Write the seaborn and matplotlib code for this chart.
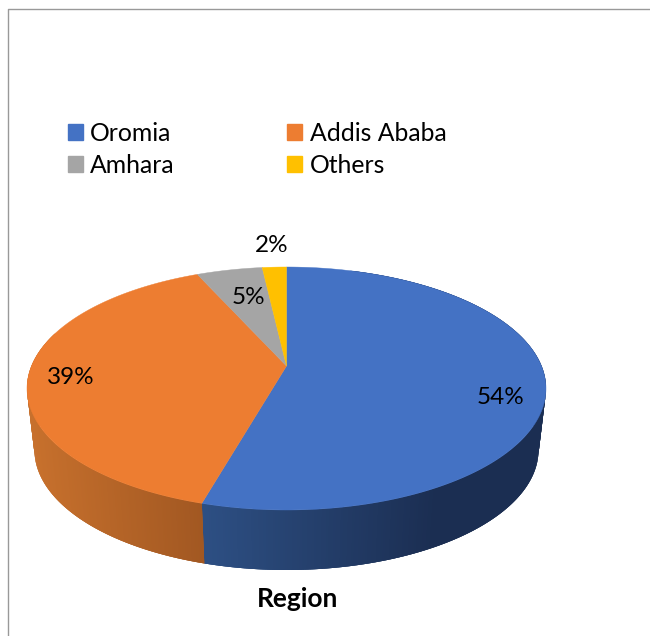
# 3D-look pie of respondents by region
import numpy as np
import matplotlib
matplotlib.use("Agg")
import matplotlib.pyplot as plt
from matplotlib.patches import Patch
import seaborn as sns

regions = ["Oromia", "Addis Ababa", "Amhara", "Others"]
shares = [54.4, 38.9, 4.9, 1.8]
top_colors = ["#4472C4", "#ED7D31", "#A5A5A5", "#FFC000"]
title = "Region"

sns.set_theme(style="white")
plt.rcParams["font.family"] = ["Lato", "DejaVu Sans"]

# pixel geometry of the tilted disc
CX, CY, RX, RY = 286.5, 388.5, 259.5, 121.5
BX, BY, BRX, BRY = 286.5, 450.0, 252.0, 120.0
K = 22.5 / RY  # perspective, moves the apex up from the ellipse centre


def to_top(phi):
    # clockwise angle from 12 o'clock -> point on the top rim
    u, v = np.sin(phi), np.cos(phi)
    w = 1 + K * v
    return CX + RX * np.sqrt(1 - K**2) * u / w, CY - RY * (v + K) / w


def to_bottom(phi):
    u, v = np.sin(phi), np.cos(phi)
    w = 1 + K * v
    return BX + BRX * np.sqrt(1 - K**2) * u / w, BY - BRY * (v + K) / w


fig = plt.figure(figsize=(6.5, 6.36), dpi=100)
ax = fig.add_axes([0, 0, 1, 1])
ax.set_xlim(0, 650)
ax.set_ylim(636, 0)
ax.axis("off")

edges = np.radians(np.cumsum([0] + shares) / sum(shares) * 360)

# chart frame
ax.plot([8, 8, 650], [636, 8.5, 8.5], color="#999999", lw=1.0, zorder=1)

# side wall, only the two front slices show
blue_side = sns.blend_palette(["#2d4f83", "#1b2e52"], 256)
orange_side = sns.blend_palette(["#a25822", "#c8712d"], 256)

# right part first, then towards the blue/orange seam, so the strips overlap
steps = np.linspace(0.3, edges[1], 400)
for i in range(len(steps) - 1):
    seg = steps[i:i + 4]
    seg = seg[seg <= edges[1]]
    xt, yt = to_top(seg)
    xb, yb = to_bottom(seg)
    frac = np.clip((xb.mean() - 205) / (430 - 205), 0, 1)
    ax.fill(np.r_[xt, xb[::-1]], np.r_[yt, yb[::-1]], color=blue_side[int(frac * 255)], lw=0, zorder=2)

steps = np.linspace(3 * np.pi / 2 + 0.3, edges[1], 300)
for i in range(len(steps) - 1):
    seg = steps[i:i + 4]
    seg = seg[seg >= edges[1]]
    xt, yt = to_top(seg)
    xb, yb = to_bottom(seg)
    frac = np.clip((205 - xb.mean()) / (205 - 35), 0, 1)
    ax.fill(np.r_[xt, xb[::-1]], np.r_[yt, yb[::-1]], color=orange_side[int(frac * 255)], lw=0, zorder=2)

# top face
apex = (CX, CY - RY * K)
for i, col in enumerate(top_colors):
    phi = np.linspace(edges[i], edges[i + 1], 200)
    x, y = to_top(phi)
    ax.fill(np.r_[apex[0], x], np.r_[apex[1], y], color=col, lw=0.3, zorder=3)

# slice labels
label_pos = [(501, 398), (71, 378), (248, 298), (272, 246)]
for s, (lx, ly) in zip(shares, label_pos):
    ax.text(lx, ly, f"{s:.0f}%", ha="center", va="center", fontsize=17.5, color="black", zorder=4)

ax.text(298, 599, title, ha="center", va="center", fontsize=19, fontweight="bold", color="black")

handles = [Patch(color=c, label=r) for c, r in zip(top_colors, regions)]
# matplotlib fills legend columns first, so reorder for row-wise reading
order = [0, 2, 1, 3]
ax.legend([handles[i] for i in order], [regions[i] for i in order], ncol=2,
          loc="upper left", bbox_to_anchor=(68 / 650, 1 - 122 / 636), bbox_transform=fig.transFigure,
          frameon=False, fontsize=17.8, labelcolor="black", handlelength=0.61, handleheight=0.61,
          handletextpad=0.29, columnspacing=4.55, labelspacing=0.36, borderpad=0, borderaxespad=0)

fig.savefig("out.png", dpi=100, facecolor="white")
